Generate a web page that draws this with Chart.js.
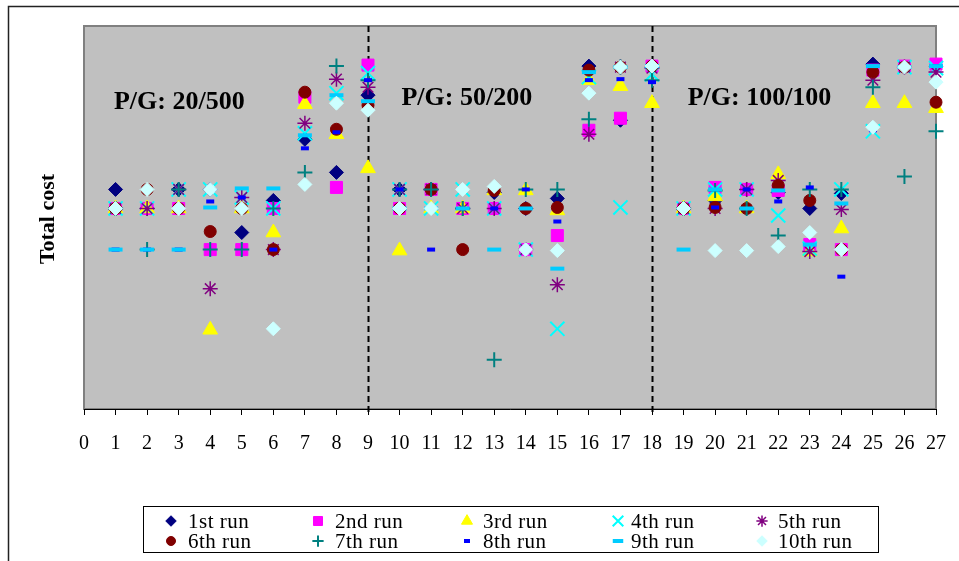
<!DOCTYPE html>
<html><head><meta charset="utf-8">
<script src="https://cdn.jsdelivr.net/npm/chart.js@4.4.0/dist/chart.umd.min.js"></script>
<style>html,body{margin:0;padding:0;background:#fff;} canvas{display:block;}</style>
</head><body>
<canvas id="c" width="959" height="561"></canvas>
<script>
// ---- data ----
const xValues = [1,2,3,4,5,6,7,8,9,10,11,12,13,14,15,16,17,18,19,20,21,22,23,24,25,26,27];
const xTicks = [0,1,2,3,4,5,6,7,8,9,10,11,12,13,14,15,16,17,18,19,20,21,22,23,24,25,26,27];
const seriesNames = ['1st run','2nd run','3rd run','4th run','5th run','6th run','7th run','8th run','9th run','10th run'];
const run1  = [219,200,219,219,176,208,269,236,313,219,219,200,216,200,210,342,288,342,200,208,219,216,200,215,344,341,342];
const run2  = [200,200,200,159,159,200,311,221,343,200,219,200,200,159,173,278,290,342,200,221,219,218,164,159,338,342,344];
const run3  = [200,200,200,79,200,176,304,274,240,158,200,200,218,218,198,328,322,305,200,212,200,234,157,180,305,305,300];
const run4  = [200,200,219,219,211,200,275,315,335,219,200,219,200,159,80,331,201,334,200,219,219,193,160,219,277,341,340];
const run5  = [200,200,219,120,211,159,285,329,321,219,219,200,200,159,124,274,341,340,200,200,219,228,157,199,328,341,336];
const run6  = [200,219,200,177,200,159,316,279,303,200,219,159,218,200,201,338,341,342,200,201,200,223,208,159,336,341,306];
const run7  = [200,159,219,159,159,200,236,342,328,219,219,200,49,219,219,289,341,328,200,218,200,173,219,219,321,232,277];
const run8  = [159,159,159,207,211,159,260,276,328,219,159,219,200,219,187,328,329,326,200,201,219,207,221,132,278,341,342];
const run9  = [159,159,159,201,220,220,273,313,307,200,200,200,159,200,140,336,341,342,159,219,200,218,164,205,342,341,342];
const run10 = [200,219,200,219,200,80,224,305,298,200,200,219,222,159,158,315,341,342,200,158,158,162,176,159,281,341,326];
const allRuns = [run1,run2,run3,run4,run5,run6,run7,run8,run9,run10];
const dividers = [9,18];
const groupLabels = ['P/G: 20/500','P/G: 50/200','P/G: 100/100'];
const groupLabelX = [0.95,10.06,19.13];
const groupLabelY = [299,303,303];
const yMin = 0, yMax = 382;

// ---- styles ----
const styles = [
  {pointStyle:'rectRot', color:'#000080', radius:7, bw:1},
  {pointStyle:'rect', color:'#ff00ff', radius:8.5, bw:1},
  {pointStyle:'triangle', color:'#ffff00', radius:8.5, bw:1},
  {pointStyle:'crossRot', color:'#00ffff', radius:10, bw:2},
  {pointStyle:'star', color:'#800080', radius:7.5, bw:1.5},
  {pointStyle:'circle', color:'#800000', radius:6, bw:1},
  {pointStyle:'cross', color:'#008080', radius:7.5, bw:2},
  {pointStyle:'line', color:'#0000ff', radius:4, bw:4},
  {pointStyle:'line', color:'#00ccff', radius:7, bw:4},
  {pointStyle:'rectRot', color:'#ccffff', radius:7, bw:1}
];

const datasets = allRuns.map((arr, i) => ({
  label: seriesNames[i],
  data: xValues.map((x, j) => ({x: x, y: arr[j]})),
  showLine: false,
  pointStyle: styles[i].pointStyle,
  pointRadius: styles[i].radius,
  pointHoverRadius: styles[i].radius,
  pointBorderWidth: styles[i].bw,
  pointHoverBorderWidth: styles[i].bw,
  pointBackgroundColor: styles[i].color,
  pointBorderColor: styles[i].color,
  backgroundColor: styles[i].color,
  borderColor: styles[i].color,
  order: 10 - i,
  clip: false
}));

const decor = {
  id: 'decor',
  beforeDraw(chart) {
    const ctx = chart.ctx, a = chart.chartArea;
    ctx.save();
    ctx.fillStyle = '#fff';
    ctx.fillRect(0, 0, chart.width, chart.height);
    // outer frame
    ctx.strokeStyle = '#222';
    ctx.lineWidth = 1.5;
    ctx.beginPath();
    ctx.moveTo(8.5, chart.height);
    ctx.lineTo(8.5, 6.5);
    ctx.lineTo(chart.width, 6.5);
    ctx.stroke();
    // plot area
    ctx.fillStyle = '#c0c0c0';
    ctx.fillRect(a.left, a.top, a.right - a.left, a.bottom - a.top);
    ctx.strokeStyle = '#808080';
    ctx.lineWidth = 2;
    ctx.strokeRect(a.left, a.top, a.right - a.left, a.bottom - a.top);
    // y title
    ctx.fillStyle = '#000';
    ctx.font = 'bold 22px "Liberation Serif", "Times New Roman", serif';
    ctx.textAlign = 'center';
    ctx.textBaseline = 'middle';
    ctx.translate(48, 219);
    ctx.rotate(-Math.PI / 2);
    ctx.fillText('Total cost', 0, 0);
    ctx.restore();
  },
  beforeDatasetsDraw(chart) {
    const ctx = chart.ctx, a = chart.chartArea;
    const xs = chart.scales.x, ys = chart.scales.y;
    ctx.save();
    ctx.strokeStyle = '#000';
    ctx.lineWidth = 2;
    ctx.setLineDash([6, 4]);
    dividers.forEach(d => {
      const px = Math.round(xs.getPixelForValue(d)) + 0.5;
      ctx.beginPath();
      ctx.moveTo(px, a.top);
      ctx.lineTo(px, a.bottom + 6);
      ctx.stroke();
    });
    ctx.setLineDash([]);
    ctx.fillStyle = '#000';
    ctx.font = 'bold 26px "Liberation Serif", "Times New Roman", serif';
    ctx.textAlign = 'left';
    ctx.textBaseline = 'alphabetic';
    groupLabels.forEach((t, i) => {
      ctx.fillText(t, xs.getPixelForValue(groupLabelX[i]), ys.getPixelForValue(groupLabelY[i]));
    });
    ctx.restore();
  },
  afterDraw(chart) {
    const ctx = chart.ctx;
    ctx.save();
    // legend box
    ctx.strokeStyle = '#000';
    ctx.lineWidth = 1;
    ctx.strokeRect(143.5, 506.5, 735, 46);
    const colM = [171, 318, 467, 618, 762];
    const colT = [188, 335, 483, 631, 778];
    const rowY = [521, 541];
    ctx.font = '21px "Liberation Serif", "Times New Roman", serif';
    try { ctx.letterSpacing = '0.5px'; } catch (e) {}
    ctx.textBaseline = 'middle';
    ctx.textAlign = 'left';
    seriesNames.forEach((name, i) => {
      const r = Math.floor(i / 5), c = i % 5;
      const st = styles[i];
      ctx.fillStyle = st.color;
      ctx.strokeStyle = st.color;
      ctx.lineWidth = st.bw;
      const scale = 0.75;
      Chart.helpers.drawPoint(ctx, {pointStyle: st.pointStyle, radius: st.radius * scale, borderWidth: st.bw, rotation: 0}, colM[c], rowY[r]);
      ctx.fillStyle = '#000';
      ctx.fillText(name, colT[c], rowY[r] + 1);
    });
    ctx.restore();
  }
};

new Chart(document.getElementById('c'), {
  type: 'scatter',
  data: { datasets },
  options: {
    responsive: false,
    animation: false,
    events: [],
    layout: { padding: { left: 84, right: 23, top: 26, bottom: 88 } },
    plugins: { legend: { display: false }, tooltip: { enabled: false } },
    scales: {
      x: {
        type: 'linear', min: 0, max: 27,
        afterBuildTicks(axis) { axis.ticks = xTicks.map(v => ({value: v})); },
        afterFit(axis) { axis.paddingLeft = 0; axis.paddingRight = 0; },
        ticks: { stepSize: 1, autoSkip: false, maxRotation: 0, padding: 17, color: '#000',
                 font: { family: '"Liberation Serif", "Times New Roman", serif', size: 20 } },
        grid: { display: true, drawOnChartArea: false, drawTicks: true, tickLength: 6, color: '#000', lineWidth: 1 },
        border: { display: true, color: '#000', width: 1 }
      },
      y: { display: false, min: yMin, max: yMax }
    }
  },
  plugins: [decor]
});
</script>
</body></html>
